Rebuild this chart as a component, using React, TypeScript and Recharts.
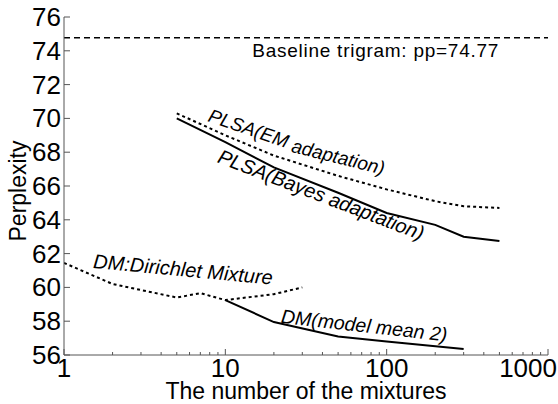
import { LineChart, Line, XAxis, YAxis, ReferenceLine, ReferenceDot } from "recharts";

// x: number of mixtures (log), y: perplexity
const plsaN = [5, 10, 20, 50, 100, 200, 300, 500];
const plsaEm = [70.3, 69.0, 67.8, 66.6, 65.8, 65.1, 64.8, 64.7];
const plsaBayes = [70.0, 68.6, 67.1, 65.6, 64.4, 63.7, 63.0, 62.75];

const dmN = [1, 2, 5, 7, 10, 20, 30];
const dmDirichlet = [61.45, 60.2, 59.4, 59.66, 59.25, 59.6, 60.0];

const dmMeanN = [10, 20, 50, 100, 300];
const dmMean2 = [59.25, 57.95, 57.1, 56.8, 56.35];

const baseline = 74.77;

const xTicks = [
  1, 2, 3, 4, 5, 6, 7, 8, 9, 10, 20, 30, 40, 50, 60, 70, 80, 90, 100, 200, 300, 400, 500, 600, 700,
  800, 900, 1000,
];
const xLabels = [1, 10, 100, 1000];
const yTicks = [56, 58, 60, 62, 64, 66, 68, 70, 72, 74, 76];

const toRows = (n: number[], v: number[]) => n.map((x, i) => ({ n: x, pp: v[i] }));

const notes = [
  { text: "PLSA(EM", n: 7.7, pp: 69.85, angle: 19, size: 19 },
  { text: " adaptation)", n: 23.6, pp: 68.1, angle: 14, size: 19 },
  { text: "PLSA(Bayes adaptation)", n: 8.8, pp: 67.42, angle: 21, size: 20 },
  { text: "DM:Dirichlet Mixture", n: 1.51, pp: 61.15, angle: 5.3, size: 20 },
  { text: "DM(model mean 2)", n: 22, pp: 57.9, angle: 6.4, size: 19.5 },
];

const FONT = "'Liberation Sans', Arial, Helvetica, sans-serif";
const TICK_FONT = "'Liberation Sans Narrow', 'Arial Narrow', 'Liberation Sans', sans-serif";
const FRAME = "#555";

function XTick({ x, y, payload, top }: any) {
  const v = payload.value;
  const major = xLabels.includes(v);
  const len = major ? 6 : 3;
  const dir = top ? 1 : -1;
  return (
    <g>
      <line x1={x} y1={y} x2={x} y2={y + dir * len} stroke={FRAME} strokeWidth={1} />
      {!top && major && (
        <text
          x={v === 1000 ? x + 9 : x}
          y={y + 22}
          textAnchor={v === 1000 ? "end" : "middle"}
          fontFamily={TICK_FONT}
          fontSize={26}
          fill="#000"
        >
          {v}
        </text>
      )}
    </g>
  );
}

function YTick({ x, y, payload, right }: any) {
  const dir = right ? -1 : 1;
  return (
    <g>
      <line x1={x} y1={y} x2={x + dir * 6} y2={y} stroke={FRAME} strokeWidth={1} />
      {!right && (
        <text
          x={x - 3}
          y={y + 9}
          textAnchor="end"
          fontFamily={TICK_FONT}
          fontSize={26}
          fill="#000"
        >
          {payload.value}
        </text>
      )}
    </g>
  );
}

const noteLabel = (text: string, angle: number, size: number) => (p: any) => {
  const { x, y } = p.viewBox;
  return (
    <text
      x={x}
      y={y}
      transform={`rotate(${angle} ${x} ${y})`}
      fontFamily={FONT}
      fontSize={size}
      fontStyle="italic"
      fill="#000"
      style={{ whiteSpace: "pre" }}
    >
      {text}
    </text>
  );
};

const baselineLabel = (p: any) => {
  const { x, y } = p.viewBox;
  return (
    <text x={x} y={y} fontFamily={FONT} fontSize={19} textLength={246} fill="#000">
      Baseline trigram: pp={baseline}
    </text>
  );
};

export default function App() {
  return (
    <div style={{ position: "absolute", left: 0, top: 0, width: 558, height: 404, background: "#fff" }}>
      <LineChart width={558} height={404} margin={{ top: 17, right: 10, bottom: 0, left: 0 }}>
        <XAxis
          dataKey="n"
          type="number"
          scale="log"
          domain={[1, 1000]}
          ticks={xTicks}
          interval={0}
          allowDataOverflow
          height={49}
          stroke={FRAME}
          tickLine={false}
          tickSize={0}
          tickMargin={0}
          tick={<XTick />}
        />
        <XAxis
          xAxisId="top"
          orientation="top"
          dataKey="n"
          type="number"
          scale="log"
          domain={[1, 1000]}
          ticks={xTicks}
          interval={0}
          allowDataOverflow
          height={0}
          stroke={FRAME}
          tickLine={false}
          tickSize={0}
          tickMargin={0}
          tick={<XTick top />}
        />
        <YAxis
          type="number"
          domain={[56, 76]}
          ticks={yTicks}
          interval={0}
          width={64}
          stroke={FRAME}
          tickLine={false}
          tickSize={0}
          tickMargin={0}
          tick={<YTick />}
        />
        <YAxis
          yAxisId="right"
          orientation="right"
          type="number"
          domain={[56, 76]}
          ticks={yTicks}
          interval={0}
          width={0}
          stroke={FRAME}
          tickLine={false}
          tickSize={0}
          tickMargin={0}
          tick={<YTick right />}
        />
        <ReferenceLine y={baseline} stroke="#000" strokeWidth={1.5} strokeDasharray="6 4" />
        <Line
          data={toRows(plsaN, plsaEm)}
          dataKey="pp"
          stroke="#000"
          strokeWidth={2}
          strokeDasharray="3 3"
          dot={false}
          isAnimationActive={false}
        />
        <Line
          data={toRows(plsaN, plsaBayes)}
          dataKey="pp"
          stroke="#000"
          strokeWidth={2}
          dot={false}
          isAnimationActive={false}
        />
        <Line
          data={toRows(dmN, dmDirichlet)}
          dataKey="pp"
          stroke="#000"
          strokeWidth={2}
          strokeDasharray="3 3"
          dot={false}
          isAnimationActive={false}
        />
        <Line
          data={toRows(dmMeanN, dmMean2)}
          dataKey="pp"
          stroke="#000"
          strokeWidth={2}
          dot={false}
          isAnimationActive={false}
        />
        <ReferenceDot x={14.7} y={73.63} r={0} stroke="none" fill="none" label={baselineLabel} />
        {notes.map((a) => (
          <ReferenceDot
            key={a.text}
            x={a.n}
            y={a.pp}
            r={0}
            stroke="none"
            fill="none"
            label={noteLabel(a.text, a.angle, a.size)}
          />
        ))}
      </LineChart>
      <div
        style={{
          position: "absolute",
          left: 306,
          top: 379,
          transform: "translateX(-50%)",
          fontFamily: FONT,
          fontSize: 23,
          whiteSpace: "nowrap",
          lineHeight: "24px",
        }}
      >
        The number of the mixtures
      </div>
      <div
        style={{
          position: "absolute",
          left: 18,
          top: 191,
          transform: "translate(0, -50%) rotate(-90deg)",
          transformOrigin: "center",
          fontFamily: FONT,
          fontSize: 23,
          whiteSpace: "nowrap",
          lineHeight: "26px",
          width: 0,
          display: "flex",
          justifyContent: "center",
        }}
      >
        Perplexity
      </div>
    </div>
  );
}
